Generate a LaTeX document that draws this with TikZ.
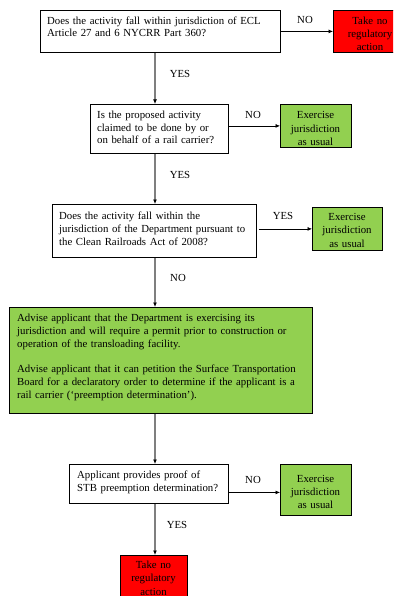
\documentclass[tikz,border=0pt]{standalone}
\usepackage{fontspec}
\setmainfont{Liberation Serif}
\usetikzlibrary{arrows.meta}
\definecolor{boxgreen}{HTML}{92D050}
\definecolor{boxred}{HTML}{FF0000}
\definecolor{linegrey}{HTML}{7F7F7F}
\tikzset{
  every node/.style={font=\fontsize{10.8}{12.7}\selectfont},
  boxshape/.style={draw=black, line width=0.8pt, rectangle, inner sep=0pt},
  qbox/.style={boxshape, fill=white},
  gbox/.style={boxshape, fill=boxgreen},
  rbox/.style={boxshape, fill=boxred},
  qtext/.style={anchor=base west, inner sep=0pt, align=left, text width=#1},
  ctext/.style={anchor=base, inner sep=0pt, align=center, text width=80pt,
    font=\fontsize{10.8}{13.3}\selectfont},
  lbl/.style={inner sep=0pt},
  vline/.style={draw=linegrey, line width=1.2pt, -{Latex[length=4.5pt,width=4pt,color=black]}},
  hline/.style={draw=black, line width=0.7pt, -{Latex[length=4.5pt,width=4pt]}},
}
\newcommand{\mkbox}[6]{% name, style, x1, y1, x2, y2
  \node[#2, minimum width={#5-#3}, minimum height={#6-#4}, anchor=north west] (#1) at (#3,#4) {};}
\begin{document}
\begin{tikzpicture}[x=1pt,y=-1pt]
\clip (0,0) rectangle (393,596);
\fill[white] (0,0) rectangle (393,596);
\coordinate (spine) at (155,0);

% boxes
\mkbox{b1}{qbox}{40}{10}{280}{52}
\mkbox{r1}{rbox}{333}{10}{407}{52.5}
\mkbox{b2}{qbox}{90}{104}{228}{153}
\mkbox{g2}{gbox}{280}{104}{351}{147}
\mkbox{b3}{qbox}{52}{204}{256}{257}
\mkbox{g3}{gbox}{312}{207}{382}{250}
\mkbox{b4}{gbox}{9}{307}{312}{413}
\mkbox{b5}{qbox}{69}{464}{228}{503}
\mkbox{g5}{gbox}{280}{464}{351}{515}
\mkbox{r5}{rbox}{120}{555}{187}{610}

% texts
\node[qtext=230pt] (t1) at (47,24.3) {Does the activity fall within jurisdiction of ECL\\Article 27 and 6 NYCRR Part 360?};
\begin{scope}
\clip ([shift={(0.4pt,0.4pt)}]r1.south west) rectangle ([shift={(-0.4pt,-0.4pt)}]r1.north east);
\node[ctext] (tr1) at (370,24.3) {Take no\\regulatory\\action};
\end{scope}
\node[qtext=130pt] (t2) at (97,118.6) {Is the proposed activity\\claimed to be done by or\\on behalf of a rail carrier?};
\begin{scope}
\clip ([shift={(0.4pt,2.5pt)}]g2.south west) rectangle ([shift={(-0.4pt,-0.4pt)}]g2.north east);
\node[ctext] (tg2) at (315.5,118.8) {Exercise\\jurisdiction\\as usual};
\end{scope}
\node[qtext=200pt] (t3) at (59,219.6) {Does the activity fall within the\\jurisdiction of the Department pursuant to\\the Clean Railroads Act of 2008?};
\begin{scope}
\clip ([shift={(0.4pt,2.5pt)}]g3.south west) rectangle ([shift={(-0.4pt,-0.4pt)}]g3.north east);
\node[ctext] (tg3) at (347,220.5) {Exercise\\jurisdiction\\as usual};
\end{scope}
\node[qtext=295pt] (t4) at (17,321.8) {Advise applicant that the Department is exercising its\\jurisdiction and will require a permit prior to construction or\\operation of the transloading facility.\\[12.9pt]Advise applicant that it can petition the Surface Transportation\\Board for a declaratory order to determine if the applicant is a\\rail carrier (‘preemption determination’).};
\node[qtext=155pt] (t5) at (77,478.6) {Applicant provides proof of\\STB preemption determination?};
\node[ctext] (tg5) at (315.5,482) {Exercise\\jurisdiction\\as usual};
\node[ctext] (tr5) at (153.5,568.6) {Take no\\regulatory\\action};

% vertical connectors
\draw[vline] (b1.south -| spine) -- (b2.north -| spine);
\draw[vline] (b2.south -| spine) -- (b3.north -| spine);
\draw[vline] (b3.south -| spine) -- (b4.north -| spine);
\draw[vline] (b4.south -| spine) -- (b5.north -| spine);
\draw[vline] (b5.south -| spine) -- (r5.north -| spine);

% horizontal connectors
\draw[hline] (b1.east) -- (b1.east -| r1.west);
\draw[hline] (b2.east |- g2.west) -- (g2.west);
\draw[hline] ([xshift=2pt]b3.east |- g3.west) -- (g3.west);
\draw[hline] ([yshift=-8.5pt]b5.east) -- ([yshift=-8.5pt]b5.east -| g5.west);

% labels
\node[lbl] (n1) at (305,20) {NO};
\node[lbl] (y1) at (180,74) {YES};
\node[lbl] (n2) at (253,115) {NO};
\node[lbl] (y2) at (180,175) {YES};
\node[lbl] (y3) at (283,216) {YES};
\node[lbl] (n3) at (178,278) {NO};
\node[lbl] (n5) at (253,480) {NO};
\node[lbl] (y5) at (177,525) {YES};
\end{tikzpicture}
\end{document}
